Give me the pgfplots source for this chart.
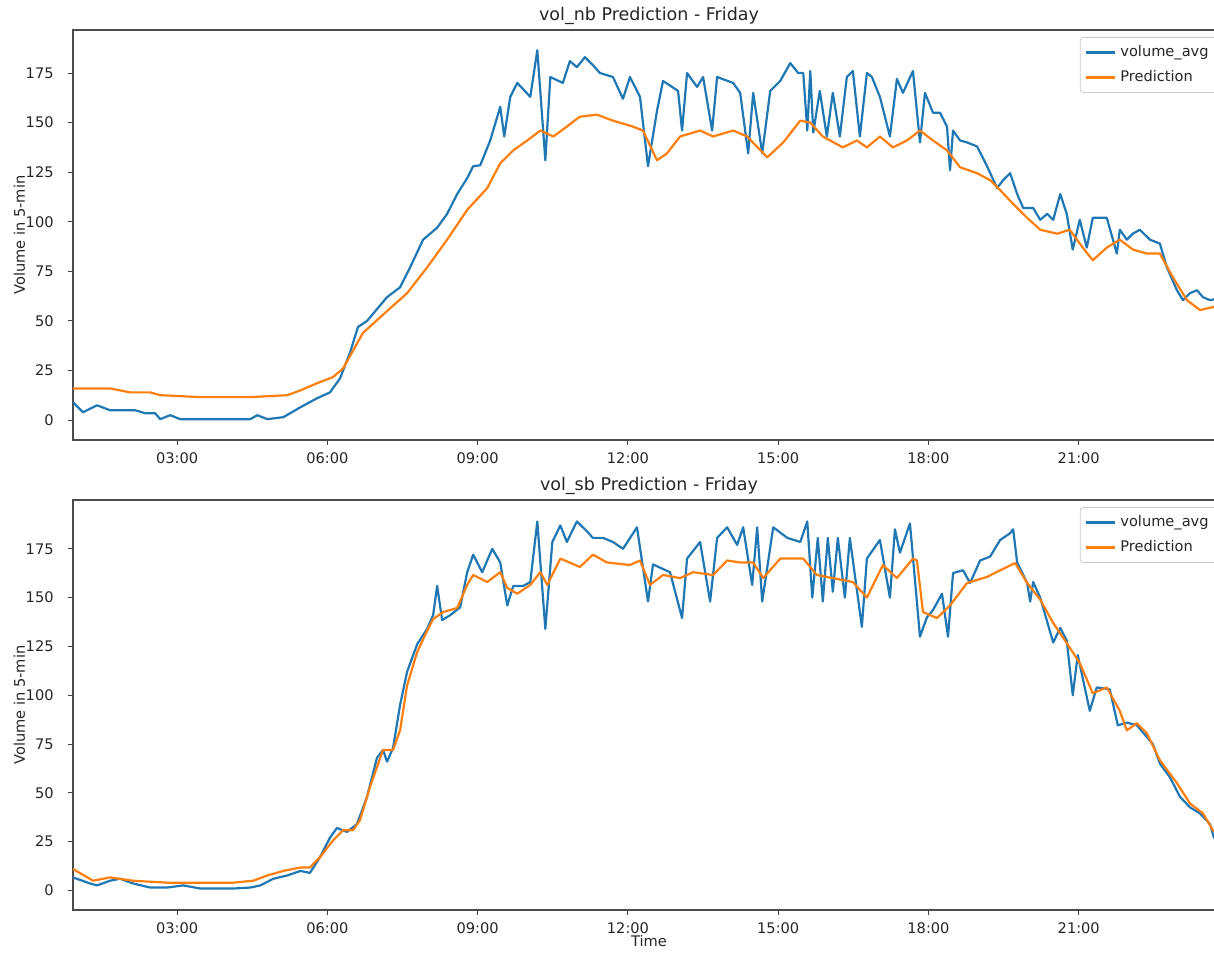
\documentclass[border=0pt]{standalone}
\usepackage{fontspec}
\setmainfont{DejaVu Sans}
\usepackage{pgfplots}
\pgfplotsset{compat=1.18}
\definecolor{mplblue}{HTML}{1F77B4}
\definecolor{mplorange}{HTML}{FF7F0E}
\pgfplotsset{
 mystyle/.style={
  scale only axis, width=576pt, height=205pt,
  xmin=0.92, xmax=23.92,
  xtick={3,6,9,12,15,18,21},
  xticklabels={03:00,06:00,09:00,12:00,15:00,18:00,21:00},
  ytick={0,25,...,175},
  tick pos=left, tick align=outside, major tick length=2.5pt,
  every tick/.style={black!75, line width=0.5pt},
  axis line style={black!70, line width=0.6pt},
  /pgf/number format/assume math mode=true,
  tick label style={font=\fontsize{7.3}{8.8}\selectfont, text=black!85},
  xticklabel style={anchor=north, inner sep=0pt, yshift=-3.5pt},
  yticklabel style={anchor=east, inner sep=0pt, xshift=-7pt},
  ylabel={Volume in 5-min},
  every axis y label/.style={at={([xshift=-24pt]axis description cs:0,0.5)}, rotate=90, anchor=base, font=\fontsize{7.3}{8.8}\selectfont, text=black!85},
  every axis title/.style={at={([yshift=4.5pt]axis description cs:0.5,1)}, anchor=base, font=\fontsize{8.75}{10.5}\selectfont, text=black!85},
  legend style={at={([xshift=-3.5pt,yshift=-3.5pt]axis description cs:1,1)}, anchor=north east, draw=black!20, rounded corners=1.5pt, fill=white, font=\fontsize{7.3}{8.8}\selectfont, text=black!85, inner xsep=2.5pt, inner ysep=2pt, row sep=1.5pt, cells={anchor=west}},
  legend image code/.code={\draw[#1] (0pt,0pt) -- (14.5pt,0pt);},
  every axis plot/.append style={line width=1.1pt, line join=round},
 }
}
\begin{document}
\begin{tikzpicture}
\begin{axis}[mystyle, at={(36.5pt,256pt)}, anchor=south west, ymin=-10, ymax=196.7, title={vol\_nb Prediction - Friday}]
\addplot[mplblue] coordinates {(0.92,9) (1.12,4) (1.40,7.5) (1.66,5) (1.86,5) (2.16,5) (2.36,3.5) (2.56,3.5) (2.66,0.5) (2.86,2.5) (3.06,0.5) (4.46,0.5) (4.60,2.5) (4.80,0.5) (5.12,1.5) (5.46,6.5) (5.79,11) (6.05,14) (6.25,21) (6.45,34) (6.61,47) (6.79,50) (7.19,62) (7.45,67) (7.65,77) (7.91,91) (8.19,97) (8.39,104) (8.59,114) (8.79,122) (8.91,128) (9.05,128.5) (9.25,141) (9.45,158) (9.53,143) (9.65,163) (9.79,170) (10.05,163) (10.19,186.5) (10.35,131) (10.45,173) (10.70,170) (10.84,181) (10.98,178) (11.14,183) (11.30,179) (11.44,175) (11.70,173) (11.90,162) (12.04,173) (12.24,163) (12.40,128) (12.58,156) (12.70,171) (13.00,166) (13.08,146) (13.18,175) (13.38,168) (13.50,173) (13.68,146) (13.78,173) (14.10,170) (14.24,165) (14.40,134.5) (14.50,165) (14.68,134.5) (14.84,166) (15.04,171) (15.24,180) (15.40,175) (15.50,175) (15.58,146) (15.64,176) (15.70,145) (15.83,166) (15.97,143) (16.09,165) (16.23,143) (16.37,173) (16.49,176) (16.63,143) (16.77,175) (16.87,173) (17.03,163) (17.23,143) (17.37,172) (17.49,165) (17.69,176) (17.83,140) (17.93,165) (18.09,155) (18.23,155) (18.37,148) (18.43,126) (18.49,146) (18.63,141) (18.77,140) (18.97,138) (19.17,128) (19.37,117) (19.49,121) (19.63,124.5) (19.77,114) (19.89,107) (20.09,107) (20.23,101) (20.37,104) (20.49,101) (20.63,114) (20.76,104) (20.88,86) (21.02,101) (21.16,87) (21.28,102) (21.56,102) (21.76,84) (21.82,96) (21.96,91) (22.08,94) (22.22,96) (22.42,91) (22.62,89) (22.76,77) (22.96,65.5) (23.08,60.5) (23.22,64) (23.36,65.5) (23.48,62) (23.62,60.5) (23.92,62)};
\addlegendentry{volume\_avg}
\addplot[mplorange] coordinates {(0.92,16) (1.66,16) (2.06,14) (2.46,14) (2.66,12.6) (3.46,11.6) (4.46,11.6) (5.20,12.6) (5.46,15) (5.79,18.6) (6.11,21.7) (6.31,26) (6.51,35) (6.71,44) (7.19,55) (7.59,64) (7.99,77) (8.39,91) (8.79,106) (9.19,117) (9.45,129.5) (9.71,136) (9.99,141) (10.25,146) (10.51,143) (10.78,148) (11.04,153) (11.38,154) (11.70,151) (12.10,148) (12.30,146) (12.58,131) (12.78,134.5) (13.04,143) (13.44,146) (13.70,143) (14.10,146) (14.38,143) (14.78,132.5) (15.10,140) (15.44,151) (15.64,150) (15.89,143) (16.29,137.5) (16.57,141) (16.77,137.5) (17.03,143) (17.29,137.5) (17.57,141) (17.83,146) (18.09,141) (18.37,136) (18.63,127.5) (18.97,124.5) (19.23,121) (19.43,116) (19.69,109) (19.97,102) (20.23,96) (20.57,94) (20.82,96) (21.08,87) (21.28,80.6) (21.56,87) (21.82,91) (22.08,86) (22.36,84) (22.62,84) (22.88,72) (23.16,60.5) (23.42,55.5) (23.68,57) (23.92,60)};
\addlegendentry{Prediction}
\end{axis}
\begin{axis}[mystyle, at={(36.5pt,21pt)}, anchor=south west, ymin=-10, ymax=200, title={vol\_sb Prediction - Friday}, xlabel={Time},
  every axis x label/.style={at={([yshift=-18.5pt]axis description cs:0.5,0)}, anchor=base, font=\fontsize{7.3}{8.8}\selectfont, text=black!85}]
\addplot[mplblue] coordinates {(0.92,6.7) (1.26,3.6) (1.40,2.6) (1.66,5) (1.86,6) (2.12,3.6) (2.46,1.5) (2.80,1.5) (3.12,2.6) (3.46,1) (4.12,1) (4.46,1.5) (4.66,2.6) (4.92,6) (5.20,7.7) (5.46,10) (5.65,9) (5.85,17) (6.05,27) (6.19,32) (6.39,30) (6.59,34) (6.79,48) (6.99,68) (7.11,72) (7.19,66) (7.31,73) (7.45,95) (7.59,112) (7.79,126) (7.99,134) (8.11,141) (8.19,156) (8.29,138.5) (8.45,141) (8.65,145) (8.79,163) (8.91,172) (9.09,163) (9.29,175) (9.45,168) (9.59,146) (9.71,156) (9.91,156) (10.05,158) (10.19,189) (10.35,134) (10.49,178.5) (10.65,187) (10.78,178.5) (10.98,189) (11.18,184) (11.30,180.6) (11.50,180.6) (11.70,178.5) (11.90,175) (12.18,186) (12.40,148) (12.50,167) (12.84,163) (13.08,139.5) (13.18,170) (13.44,178.5) (13.64,148) (13.78,180.6) (13.98,186) (14.18,177) (14.30,186) (14.48,156.5) (14.58,186) (14.68,148) (14.90,186) (15.18,180.6) (15.44,178.5) (15.58,189) (15.68,150) (15.79,180.6) (15.89,148) (15.99,180.6) (16.09,153) (16.19,180.6) (16.33,150) (16.43,180.6) (16.67,135) (16.77,170) (17.03,179.5) (17.23,150) (17.33,185) (17.43,173) (17.63,188) (17.83,130) (17.97,140) (18.09,143.6) (18.27,152) (18.39,130) (18.49,162.6) (18.69,164) (18.83,157.5) (19.03,169) (19.23,171) (19.43,179.5) (19.63,183) (19.69,185) (19.77,168) (19.97,157.5) (20.03,148) (20.09,158) (20.23,150) (20.49,127) (20.63,134.5) (20.76,128) (20.88,100) (20.98,120.6) (21.22,92) (21.36,104) (21.62,103) (21.78,84.6) (21.96,86) (22.16,84.6) (22.48,75) (22.62,65) (22.82,58) (23.02,48) (23.22,42.6) (23.42,39.5) (23.62,34) (23.70,27) (23.92,25)};
\addlegendentry{volume\_avg}
\addplot[mplorange] coordinates {(0.92,11) (1.32,5) (1.66,6.7) (2.12,5) (2.80,4) (4.12,4) (4.52,5) (4.80,7.7) (5.12,10) (5.46,11.8) (5.65,11.8) (5.85,17) (6.11,25.6) (6.31,30.8) (6.51,30.8) (6.65,36) (6.85,53) (7.11,72) (7.31,72) (7.45,82) (7.59,105) (7.79,122) (7.99,133) (8.11,139) (8.31,142.6) (8.59,144.7) (8.79,156.5) (8.91,161.6) (9.19,158) (9.45,163) (9.59,155) (9.79,152) (10.05,156.5) (10.25,163) (10.39,156.5) (10.65,170) (11.04,165.7) (11.30,172) (11.58,168) (12.04,166.7) (12.24,169) (12.44,156.5) (12.70,161.6) (13.04,160) (13.30,163) (13.70,161.6) (13.98,169) (14.24,168) (14.50,168) (14.70,160) (15.04,170) (15.50,170) (15.77,161.6) (16.09,160) (16.49,158) (16.77,150) (17.09,166.7) (17.37,160) (17.69,170) (17.77,169) (17.89,142.6) (18.17,139.5) (18.43,146) (18.77,157.5) (19.17,160.6) (19.43,164) (19.73,167.7) (19.97,157.5) (20.23,149) (20.49,137) (20.76,126.7) (21.02,116.5) (21.28,101) (21.56,104) (21.82,92) (21.96,82) (22.16,85.7) (22.36,80.5) (22.62,66.7) (22.96,55) (23.22,44.6) (23.48,39.5) (23.68,30.8) (23.92,28)};
\addlegendentry{Prediction}
\end{axis}
\pgfresetboundingbox
\path[use as bounding box] (0,0) rectangle (607pt,476pt);
\end{tikzpicture}
\end{document}
